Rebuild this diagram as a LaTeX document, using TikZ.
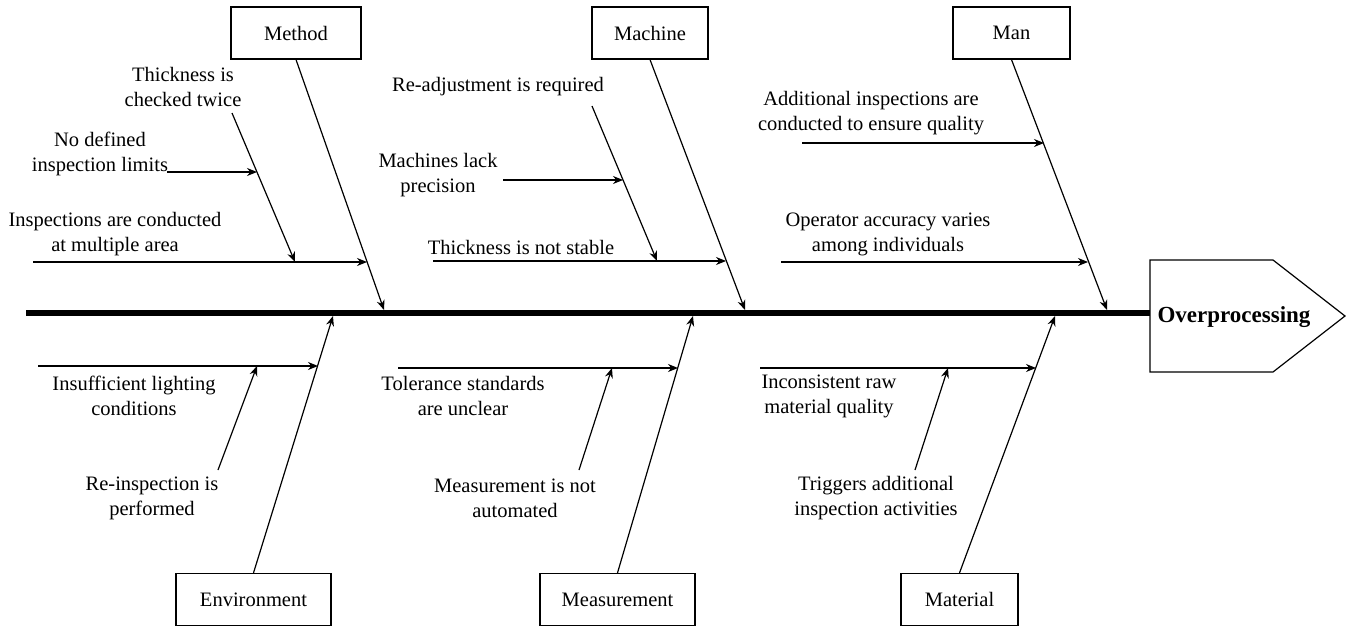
\documentclass[tikz,border=0pt]{standalone}
\usepackage{fontspec}
\setmainfont{Liberation Serif}
\usetikzlibrary{arrows.meta}
\begin{document}
\begin{tikzpicture}[x=1pt,y=-1pt,
  every node/.style={font=\fontsize{20.5}{25}\selectfont},
  cause/.style={align=center, inner sep=0pt},
  catbox/.style={draw, line width=1.2pt, minimum height=52pt, inner sep=0pt},
  bone/.style={line width=1.2pt, -{Stealth[length=10pt,width=8pt]}},
  twig/.style={line width=1.2pt, -{Stealth[length=10pt,width=8pt]}},
]
\useasboundingbox (0,0) rectangle (1347,626);

% ---------- spine and head ----------
\coordinate (spineL) at (26,313);
\coordinate (spineR) at (1150,313);
\draw[line width=6pt] (spineL) -- (spineR);
\draw[line width=1.2pt] (1150,260) -- (1273,260) -- (1345,316) -- (1273,372) -- (1150,372) -- cycle;
\node[font=\fontsize{23}{27}\selectfont\bfseries] (effect) at (1234,317) {Overprocessing};

% ---------- category boxes ----------
\node[catbox, minimum width=130pt] (method) at (296,33) {Method};
\node[catbox, minimum width=116pt] (machine) at (650,33) {Machine};
\node[catbox, minimum width=117pt] (man) at (1011.5,33) {Man};
\node[catbox, minimum width=155pt] (env) at (253.5,599.5) {Environment};
\node[catbox, minimum width=155pt] (meas) at (617.5,599.5) {Measurement};
\node[catbox, minimum width=117pt] (mat) at (959.5,599.5) {Material};

% ---------- main bones ----------
\coordinate (methodT) at (384,310);
\coordinate (machineT) at (745,310);
\coordinate (manT) at (1107,310);
\coordinate (envT) at (333,316);
\coordinate (measT) at (693,316);
\coordinate (matT) at (1055,316);
\draw[bone] (method.south) -- (methodT);
\draw[bone] (machine.south) -- (machineT);
\draw[bone] (man.south) -- (manT);
\draw[bone] (env.north) -- (envT);
\draw[bone] (meas.north) -- (measT);
\draw[bone] (mat.north) -- (matT);

% ---------- Method causes ----------
\node[cause] (mc1) at (183,87) {Thickness is\\checked twice};
\node[cause] (mc2) at (100,154) {No defined\\inspection limits};
\node[cause] (mc3) at (115,234) {Inspections are conducted\\at multiple area};
\coordinate (m3a) at (33,262);  \coordinate (m3b) at (367,262);
\coordinate (m1a) at (232,113); \coordinate (m1b) at (295,262);
\coordinate (m2a) at (167,172); \coordinate (m2b) at (257,172);
\draw[twig] (m3a) -- (m3b);
\draw[twig] (m1a) -- (m1b);
\draw[twig] (m2a) -- (m2b);

% ---------- Machine causes ----------
\node[cause] (cc1) at (498,87) {Re-adjustment is required};
\node[cause] (cc2) at (438,175) {Machines lack\\precision};
\node[cause] (cc3) at (521,247) {Thickness is not stable};
\coordinate (c3a) at (433,261); \coordinate (c3b) at (726,261);
\coordinate (c1a) at (592,106); \coordinate (c1b) at (657,261);
\coordinate (c2a) at (503,180); \coordinate (c2b) at (623,180);
\draw[twig] (c3a) -- (c3b);
\draw[twig] (c1a) -- (c1b);
\draw[twig] (c2a) -- (c2b);

% ---------- Man causes ----------
\node[cause] (nc1) at (871,113) {Additional inspections are\\conducted to ensure quality};
\node[cause] (nc2) at (888,234) {Operator accuracy varies\\among individuals};
\coordinate (n1a) at (802,143); \coordinate (n1b) at (1044,143);
\coordinate (n2a) at (781,262); \coordinate (n2b) at (1088,262);
\draw[twig] (n1a) -- (n1b);
\draw[twig] (n2a) -- (n2b);

% ---------- Environment causes ----------
\node[cause] (ec1) at (134,396) {Insufficient lighting\\conditions};
\node[cause] (ec2) at (152,498) {Re-inspection is\\performed};
\coordinate (e1a) at (38,366);  \coordinate (e1b) at (318,366);
\coordinate (e2a) at (218,470); \coordinate (e2b) at (257,366);
\draw[twig] (e1a) -- (e1b);
\draw[twig] (e2a) -- (e2b);

% ---------- Measurement causes ----------
\node[cause] (sc1) at (463,396) {Tolerance standards\\are unclear};
\node[cause] (sc2) at (515,498) {Measurement is not\\automated};
\coordinate (s1a) at (398,368); \coordinate (s1b) at (678,368);
\coordinate (s2a) at (579,470); \coordinate (s2b) at (612,368);
\draw[twig] (s1a) -- (s1b);
\draw[twig] (s2a) -- (s2b);

% ---------- Material causes ----------
\node[cause] (rc1) at (829,396) {Inconsistent raw\\material quality};
\node[cause] (rc2) at (876,498) {Triggers additional\\inspection activities};
\coordinate (r1a) at (760,368); \coordinate (r1b) at (1036,368);
\coordinate (r2a) at (915,470); \coordinate (r2b) at (948,368);
\draw[twig] (r1a) -- (r1b);
\draw[twig] (r2a) -- (r2b);

\end{tikzpicture}
\end{document}
